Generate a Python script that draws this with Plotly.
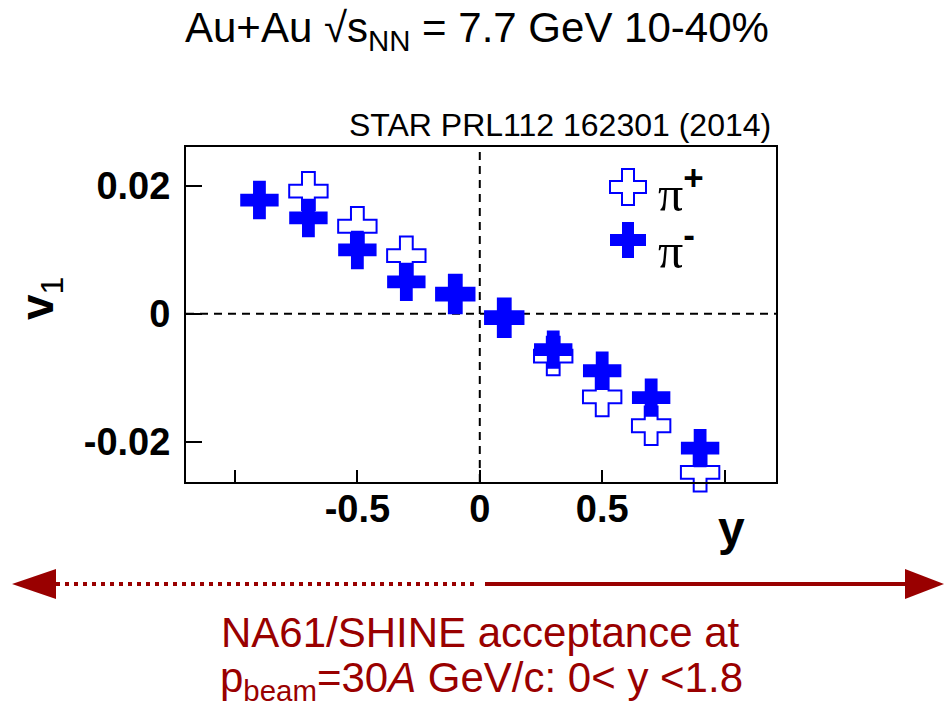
import plotly.graph_objects as go

# ---- data ----
rapidity_pim = [-0.9, -0.7, -0.5, -0.3, -0.1, 0.1, 0.3, 0.5, 0.7, 0.9]
v1_pim = [0.0178, 0.0150, 0.0100, 0.0050, 0.0031, -0.0006, -0.0056, -0.0089, -0.0131, -0.0210]
rapidity_pip = [-0.7, -0.5, -0.3, -0.1, 0.1, 0.3, 0.5, 0.7, 0.9]
v1_pip = [0.0192, 0.0137, 0.0091, 0.0031, -0.0006, -0.0066, -0.0130, -0.0175, -0.0248]

x_tickvals = [-1.0, -0.5, 0.0, 0.5, 1.0]
x_ticktext = [" ", "-0.5", "0", "0.5", " "]
y_tickvals = [-0.02, 0.0, 0.02]
y_ticktext = ["-0.02", "0", "0.02"]

# ---- layout geometry ----
W, H = 950, 709
L, R, T, B = 186, 776, 147, 482
BLUE = "#0000FF"
RED = "#990000"
FONT = "Liberation Sans"


def fx(px):
    return (px - L) / (R - L)


def fy(py):
    return (B - py) / (B - T)


fig = go.Figure()

# pi+ : open crosses (white-filled)
fig.add_trace(go.Scatter(
    x=rapidity_pip, y=v1_pip, mode="markers", name="π+",
    marker=dict(symbol="cross", size=32, color="white",
                line=dict(color=BLUE, width=2)),
    showlegend=False, cliponaxis=False))
# pi- : filled crosses
fig.add_trace(go.Scatter(
    x=rapidity_pim, y=v1_pim, mode="markers", name="π-",
    marker=dict(symbol="cross", size=32, color=BLUE, line=dict(width=0)),
    showlegend=False, cliponaxis=False))

# manual legend symbols (in paper coordinates via overlay axes)
fig.add_trace(go.Scatter(
    x=[fx(628)], y=[fy(187)], xaxis="x2", yaxis="y2", mode="markers",
    marker=dict(symbol="cross", size=30, color="white", line=dict(color=BLUE, width=2)),
    showlegend=False, hoverinfo="skip"))
fig.add_trace(go.Scatter(
    x=[fx(628)], y=[fy(240)], xaxis="x2", yaxis="y2", mode="markers",
    marker=dict(symbol="cross", size=30, color=BLUE, line=dict(width=0)),
    showlegend=False, hoverinfo="skip"))

shapes = []
# dashed zero lines
shapes.append(dict(type="line", xref="x", yref="paper", x0=0, x1=0, y0=0, y1=1,
                   line=dict(color="black", width=2, dash="8px,6px"), layer="below"))
shapes.append(dict(type="line", xref="paper", yref="y", x0=0, x1=1, y0=0, y1=0,
                   line=dict(color="black", width=2, dash="8px,6px"), layer="below"))

# bottom acceptance arrow
ay = 584
shapes.append(dict(type="line", xref="paper", yref="paper",
                   x0=fx(56), x1=fx(478), y0=fy(ay), y1=fy(ay),
                   line=dict(color=RED, width=4, dash="4px,5px")))
shapes.append(dict(type="line", xref="paper", yref="paper",
                   x0=fx(485), x1=fx(908), y0=fy(ay), y1=fy(ay),
                   line=dict(color=RED, width=4)))


def tri(tip, base):
    return (f"M {fx(tip)} {fy(ay)} L {fx(base)} {fy(ay - 15)} "
            f"L {fx(base)} {fy(ay + 15)} Z")


shapes.append(dict(type="path", xref="paper", yref="paper", path=tri(12, 56),
                   fillcolor=RED, line=dict(width=0)))
shapes.append(dict(type="path", xref="paper", yref="paper", path=tri(944, 905),
                   fillcolor=RED, line=dict(width=0)))

SUP_STYLE = "font-family:Liberation Sans;font-weight:bold"

annotations = [
    dict(text="Au+Au √s<sub>NN</sub> = 7.7 GeV 10-40%", x=fx(477), y=fy(30),
         xref="paper", yref="paper", showarrow=False, xanchor="center", yanchor="middle",
         font=dict(family=FONT, size=42, color="black")),
    dict(text="STAR PRL112 162301 (2014)", x=fx(773), y=fy(125),
         xref="paper", yref="paper", showarrow=False, xanchor="right", yanchor="middle",
         font=dict(family=FONT, size=32, color="black")),
    dict(text="<b>v</b><sub>1</sub>", x=fx(40), y=fy(298), textangle=-90,
         xref="paper", yref="paper", showarrow=False, xanchor="center", yanchor="middle",
         font=dict(family=FONT, size=46, color="black")),
    dict(text="<b>y</b>", x=fx(731), y=fy(528),
         xref="paper", yref="paper", showarrow=False, xanchor="center", yanchor="middle",
         font=dict(family=FONT, size=48, color="black")),
    dict(text=f"π<sup><span style='{SUP_STYLE}'>+</span></sup>", x=fx(656), y=fy(190),
         xref="paper", yref="paper", showarrow=False, xanchor="left", yanchor="middle",
         font=dict(family="Liberation Serif", size=50, color="black")),
    dict(text=f"π<sup><span style='{SUP_STYLE}'>-</span></sup>", x=fx(656), y=fy(247),
         xref="paper", yref="paper", showarrow=False, xanchor="left", yanchor="middle",
         font=dict(family="Liberation Serif", size=50, color="black")),
    dict(text="NA61/SHINE acceptance at", x=fx(480), y=fy(632),
         xref="paper", yref="paper", showarrow=False, xanchor="center", yanchor="middle",
         font=dict(family=FONT, size=42, color=RED)),
    dict(text="p<sub>beam</sub>=30<i>A</i> GeV/c: 0< y <1.8", x=fx(481), y=fy(680),
         xref="paper", yref="paper", showarrow=False, xanchor="center", yanchor="middle",
         font=dict(family=FONT, size=42, color=RED)),
]

fig.update_layout(
    width=W, height=H,
    margin=dict(l=L, r=W - R, t=T, b=H - B, pad=0),
    paper_bgcolor="white", plot_bgcolor="white",
    showlegend=False,
    shapes=shapes, annotations=annotations,
    xaxis=dict(range=[-1.2, 1.21], tickvals=x_tickvals, ticktext=x_ticktext,
               ticks="inside", ticklen=12, tickwidth=2, tickcolor="black",
               showline=True, linecolor="black", linewidth=2, mirror=True,
               showgrid=False, zeroline=False,
               tickfont=dict(family=FONT, size=38, color="black", weight="bold"),
               ticklabelstandoff=-8),
    yaxis=dict(range=[-0.0263, 0.0261], tickvals=y_tickvals, ticktext=y_ticktext,
               ticks="inside", ticklen=16, tickwidth=2, tickcolor="black",
               showline=True, linecolor="black", linewidth=2, mirror=True,
               showgrid=False, zeroline=False,
               tickfont=dict(family=FONT, size=38, color="black", weight="bold"),
               ticklabelstandoff=6),
    xaxis2=dict(overlaying="x", range=[0, 1], visible=False, fixedrange=True),
    yaxis2=dict(overlaying="y", range=[0, 1], visible=False, fixedrange=True),
)

fig.write_html("out.html")
